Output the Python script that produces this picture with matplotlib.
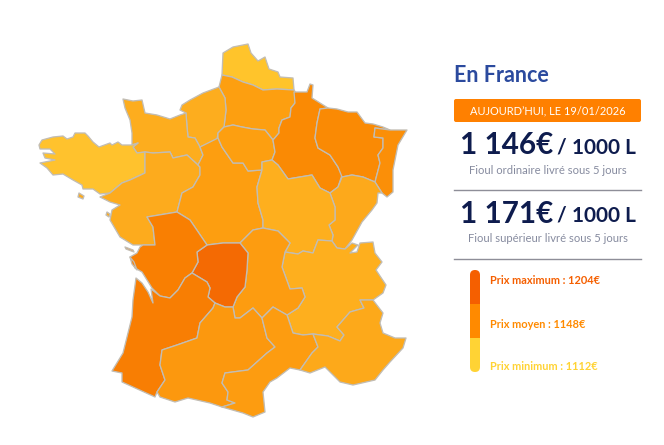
import matplotlib
matplotlib.use("Agg")
import matplotlib.pyplot as plt
from matplotlib.patches import FancyBboxPatch, Rectangle

plt.rcParams["font.family"] = ["Lato", "DejaVu Sans"]

# region outlines (image pixel units)
nord = [(223,53),(233,47),(248,44),(251,53),(258,61),(265,57),(269,69),(278,72),(280,77),(293,78),(294,90),(277,89),(263,90),(253,85),(243,82),(232,77),(222,75)]
picardie = [(222,75),(232,77),(243,82),(253,85),(263,90),(277,89),(294,90),(296,93),(295,103),(291,108),(290,117),(282,120),(279,128),(279,133),(273,140),(265,130),(253,129),(242,127),(233,125),(224,127),(226,110),(225,98),(219,87)]
haute_normandie = [(219,87),(203,93),(190,100),(182,105),(180,110),(186,113),(187,127),(188,137),(195,138),(200,147),(217,140),(218,133),(224,127),(226,110),(225,98)]
basse_normandie = [(123,99),(133,101),(142,100),(145,113),(157,115),(170,119),(180,115),(186,113),(187,127),(188,137),(195,138),(200,147),(203,155),(198,165),(187,155),(173,158),(170,152),(153,153),(145,152),(137,153),(133,147),(138,143),(132,145),(132,133),(130,120),(125,108)]
bretagne = [(39,145),(42,140),(53,137),(63,136),(67,139),(73,137),(75,133),(85,133),(88,136),(93,142),(99,147),(110,143),(112,145),(118,142),(122,145),(124,145),(132,145),(138,143),(133,147),(137,153),(145,152),(145,173),(130,180),(122,183),(110,193),(100,194),(93,189),(83,189),(82,185),(73,180),(63,174),(53,175),(47,168),(40,163),(50,161),(55,160),(45,158),(43,153),(55,154),(50,149),(40,149)]
pays_loire = [(145,152),(153,153),(170,152),(173,158),(187,155),(198,165),(200,167),(200,175),(193,187),(182,193),(177,212),(147,217),(153,227),(155,245),(143,245),(133,245),(120,237),(110,220),(112,210),(120,205),(110,202),(100,197),(110,193),(122,183),(130,180),(145,173)]
centre = [(200,147),(218,138),(222,147),(233,163),(243,163),(248,171),(262,170),(257,187),(258,203),(263,220),(263,228),(253,230),(240,243),(223,243),(207,245),(190,220),(177,212),(182,193),(193,187),(200,175),(200,167),(198,165),(203,155)]
ile_de_france = [(224,127),(233,125),(242,127),(253,129),(265,130),(273,140),(275,152),(272,160),(262,162),(262,170),(248,171),(243,163),(233,163),(222,147),(218,138),(218,133)]
champagne = [(294,92),(307,92),(310,84),(313,85),(312,98),(320,103),(328,108),(320,109),(317,123),(315,138),(318,148),(330,155),(338,167),(342,175),(338,187),(330,193),(320,188),(312,175),(288,179),(278,165),(272,160),(275,152),(273,140),(279,133),(279,128),(282,120),(290,117),(291,108),(295,103)]
lorraine = [(328,108),(337,109),(348,112),(357,112),(365,123),(373,124),(383,127),(390,130),(375,128),(374,137),(383,138),(383,148),(378,155),(380,163),(375,182),(363,177),(352,175),(342,177),(338,167),(330,155),(318,148),(315,138),(317,123),(320,109)]
alsace = [(375,128),(390,130),(407,130),(398,145),(393,170),(393,192),(387,197),(382,193),(375,182),(380,163),(378,155),(383,148),(383,138),(374,137)]
franche_comte = [(342,177),(352,175),(363,177),(375,182),(382,193),(378,193),(377,203),(372,210),(362,222),(352,240),(345,249),(337,248),(332,241),(333,235),(329,225),(335,220),(335,207),(330,193),(338,187)]
bourgogne = [(262,162),(272,160),(278,165),(288,179),(312,175),(320,188),(330,193),(335,207),(335,220),(329,225),(333,235),(332,241),(318,240),(313,253),(303,251),(298,254),(285,252),(290,243),(278,231),(263,228),(263,220),(258,203),(257,187),(262,170)]
rhone_alpes = [(318,240),(332,241),(337,248),(345,249),(352,243),(358,245),(350,253),(357,252),(360,243),(373,242),(375,253),(382,262),(376,270),(386,285),(383,293),(373,300),(360,300),(364,308),(350,312),(337,327),(344,335),(340,341),(328,336),(313,334),(303,335),(293,333),(287,315),(298,308),(305,297),(302,288),(290,289),(282,267),(285,252),(298,254),(303,251),(313,253)]
auvergne = [(240,243),(253,230),(263,228),(278,231),(290,243),(285,252),(282,267),(290,289),(302,288),(305,297),(298,308),(287,315),(273,307),(262,318),(253,308),(240,318),(235,318),(233,307),(237,297),(245,287),(247,270),(248,253)]
limousin = [(240,243),(223,243),(207,245),(197,252),(198,262),(192,273),(207,282),(210,288),(208,297),(215,303),(225,307),(233,307),(237,297),(245,287),(247,270),(248,253)]
poitou = [(147,217),(177,212),(190,220),(207,245),(197,252),(198,262),(192,273),(185,278),(178,290),(170,298),(160,296),(152,288),(142,272),(135,268),(130,257),(137,253),(140,247),(143,245),(155,245),(153,227)]
aquitaine = [(136,278),(133,300),(132,317),(123,353),(112,371),(122,373),(122,382),(155,397),(157,392),(165,380),(160,365),(162,350),(177,345),(197,338),(200,323),(213,308),(215,303),(208,297),(210,288),(207,282),(192,273),(185,278),(178,290),(170,298),(160,296),(151,289),(153,303),(148,292),(142,283)]
midi_pyrenees = [(162,350),(177,345),(197,338),(200,323),(213,308),(215,303),(225,307),(233,307),(235,318),(240,318),(253,308),(262,318),(267,338),(275,347),(267,353),(248,370),(225,373),(222,383),(228,392),(227,400),(235,403),(222,407),(210,403),(188,398),(175,402),(160,397),(157,392),(165,380),(160,365)]
languedoc = [(262,318),(273,307),(287,315),(293,333),(303,335),(313,334),(318,347),(312,353),(300,370),(290,368),(277,378),(270,382),(263,392),(265,412),(253,417),(243,413),(222,407),(235,403),(227,400),(228,392),(222,383),(225,373),(248,370),(267,353),(275,347),(267,338)]
paca = [(313,334),(328,336),(340,341),(344,335),(337,327),(350,312),(364,308),(360,300),(373,300),(383,313),(380,323),(383,333),(395,338),(406,338),(403,348),(390,362),(383,370),(375,380),(353,385),(340,382),(325,367),(310,373),(300,370),(312,353),(318,347)]
ile_belle = [(79,193),(84,196),(83,199),(78,197)]
ile_yeu = [(107,212),(110,214),(109,217),(106,215)]
ile_re = [(125,247),(133,250),(134,252),(126,249)]
ile_oleron = [(130,257),(134,262),(137,270),(132,264)]

regions = [nord, picardie, haute_normandie, basse_normandie, bretagne, pays_loire, centre,
           ile_de_france, champagne, lorraine, alsace, franche_comte, bourgogne, rhone_alpes,
           auvergne, limousin, poitou, aquitaine, midi_pyrenees, languedoc, paca,
           ile_belle, ile_yeu, ile_re, ile_oleron]
region_colors = ["#FFC42B", "#FD9F10", "#FDAD1E", "#FDAD1E", "#FFC22D", "#FDAB1D", "#FD9E10",
                 "#FD9F10", "#FA8A04", "#FA8A04", "#FB8F08", "#FDA91B", "#FEAF1E", "#FEAF1E",
                 "#FD9C10", "#F46A03", "#F97F02", "#F87E03", "#FC980E", "#FD9C10", "#FDA91A",
                 "#FDAB1D", "#FDAB1D", "#F97F02", "#F97F02"]

title = "En France"
banner = "AUJOURD’HUI, LE 19/01/2026"
prices = ["1 146€", "1 171€"]
unit = "/ 1000 L"
captions = ["Fioul ordinaire livré sous 5 jours", "Fioul supérieur livré sous 5 jours"]
scale_labels = ["Prix maximum : 1204€", "Prix moyen : 1148€", "Prix minimum : 1112€"]
scale_colors = ["#F55F00", "#FF8A00", "#FFD334"]

NAVY = "#0E1C4E"
GREY = "#868B9F"

fig = plt.figure(figsize=(6.64, 4.45), dpi=100, facecolor="white")
ax = fig.add_axes([0, 0, 1, 1])
ax.set_xlim(0, 664)
ax.set_ylim(445, 0)
ax.axis("off")

for outline, colour in zip(regions, region_colors):
    xs, ys = zip(*outline)
    ax.fill(xs, ys, facecolor=colour, edgecolor="#C2BDB4", linewidth=0.95, joinstyle="round")

ax.text(454, 76, title, fontsize=15.5, fontweight="bold", color="#2B4A9E", va="center")

ax.add_patch(FancyBboxPatch((454, 99), 187, 23, boxstyle="round,pad=0,rounding_size=2",
                            facecolor="#FF8000", edgecolor="none"))
ax.text(547.5, 110.5, banner, fontsize=7.9, color="white", ha="center", va="center")

for y, price, caption in zip([145, 214], prices, captions):
    ax.text(553, y, price, fontsize=21.3, fontweight="bold", color=NAVY, ha="right", va="center")
    ax.text(557, y + 2, unit, fontsize=15, fontweight="bold", color=NAVY, ha="left", va="center")
    ax.text(547.5, y + 25, caption, fontsize=8.1, color=GREY, ha="center", va="center")

ax.plot([454, 641], [190, 190], color="#8E8E98", linewidth=1)
ax.plot([454, 641], [259, 259], color="#8E8E98", linewidth=1)

# rounded three-colour scale
clip = FancyBboxPatch((470, 270), 10, 102, boxstyle="round,pad=0,rounding_size=5",
                      facecolor="none", edgecolor="none")
ax.add_patch(clip)
for i, colour in enumerate(scale_colors):
    seg = Rectangle((470, 270 + i * 34), 10, 34, facecolor=colour, edgecolor="none")
    ax.add_patch(seg)
    seg.set_clip_path(clip)

for y, label, colour in zip([280, 324, 366], scale_labels, scale_colors):
    ax.text(490, y, label, fontsize=7.9, fontweight="bold", color=colour, va="center")

fig.savefig("out.png", dpi=100)
